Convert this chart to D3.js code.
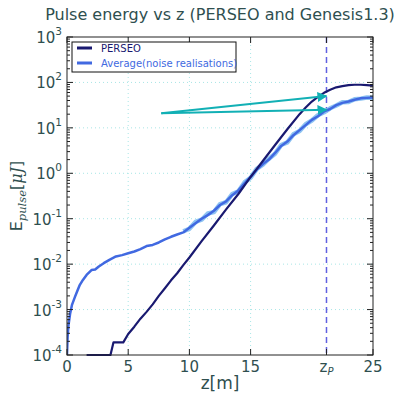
<!DOCTYPE html>
<html>
<head>
<meta charset="utf-8">
<script src="https://cdn.jsdelivr.net/npm/d3@7"></script>
<style>
  body { margin: 0; background: #fff; }
  text { font-family: "DejaVu Sans", sans-serif; }
</style>
</head>
<body>
<div id="chart"></div>
<script>
// PERSEO (z in m, pulse energy in uJ)
const perseoZ = [1.6, 3.55, 3.8, 4.6, 5, 5.5, 6, 6.5, 7, 7.5, 8, 8.5, 9, 9.5, 10, 11, 12, 13, 14, 15, 16, 17, 18, 19, 19.5, 20, 20.5, 21, 21.5, 22, 22.5, 23, 23.5, 24, 24.5, 25];
const perseoE = [1e-4, 1e-4, 1.9e-4, 1.9e-4, 2.9e-4, 4.2e-4, 6.3e-4, 8.9e-4, 1.3e-3, 2.0e-3, 2.95e-3, 4.4e-3, 6.3e-3, 9.5e-3, 1.4e-2, 3.2e-2, 7.1e-2, 0.16, 0.35, 0.83, 1.86, 4.2, 9.3, 20, 28, 38, 48, 59, 69, 78, 83, 87, 89, 89, 87, 85];

// Genesis1.3 average over noise realisations
const avgZ = [0, 0.05, 0.12, 0.25, 0.4, 0.65, 0.85, 1.05, 1.3, 1.6, 2, 2.3, 2.6, 3, 3.5, 4, 4.5, 5, 5.5, 6, 6.5, 7, 7.5, 8, 8.5, 9, 9.5, 10, 10.5, 11, 11.5, 12, 12.5, 13, 13.5, 14, 14.5, 15, 15.5, 16, 16.5, 17, 17.5, 18, 18.5, 19, 19.5, 20, 20.5, 21, 21.5, 22, 22.5, 23, 23.5, 24, 24.5, 25];
const avgE = [1e-4, 2.5e-4, 4.5e-4, 8e-4, 1.25e-3, 1.9e-3, 2.6e-3, 3.5e-3, 4.5e-3, 5.8e-3, 7.4e-3, 7.6e-3, 8.9e-3, 1.05e-2, 1.26e-2, 1.48e-2, 1.58e-2, 1.74e-2, 1.9e-2, 2.15e-2, 2.5e-2, 2.65e-2, 3.0e-2, 3.5e-2, 4.0e-2, 4.5e-2, 5.0e-2, 6.3e-2, 7.9e-2, 0.1, 0.12, 0.15, 0.2, 0.24, 0.33, 0.42, 0.6, 0.83, 1.2, 1.6, 2.0, 2.8, 4.0, 5.0, 6.9, 8.9, 11.5, 15, 18, 23, 26, 31.6, 35.5, 38, 41.7, 44.7, 45.7, 46.8];

// spread of the single realisations (light halo around the average)
const spreadZ = [9.5, 10, 10.5, 11, 11.5, 12, 12.5, 13, 13.5, 14, 14.5, 15, 15.5, 16, 16.5, 17, 17.5, 18, 18.5, 19, 19.5, 20, 20.5, 21, 21.5, 22, 22.5, 23, 23.5, 24, 24.5, 25];
const spreadE = [5.3e-2, 6.0e-2, 8.5e-2, 0.095, 0.13, 0.14, 0.21, 0.23, 0.35, 0.4, 0.63, 0.8, 1.25, 1.55, 2.1, 2.7, 4.2, 4.8, 7.2, 8.5, 12, 14.5, 19, 22, 27, 31, 36.5, 37, 42.5, 44, 46.5, 46];

const xTicks = [0, 5, 10, 15, 21.2, 25];
const xTickLabels = ["0", "5", "10", "15", "zP", "25"];
const yExponents = [-4, -3, -2, -1, 0, 1, 2, 3];
const zP = 21.2;

// arrow annotations: start point and the two end points
const arrowStart = [7.7, 21];
const arrowEnds = [[21.2, 50], [21.2, 25]];

const width = 404, height = 394;
const margin = {left: 67, right: 31, top: 37, bottom: 39};
const textColor = "#2f4f4f";

const svg = d3.select("#chart").append("svg")
    .attr("width", width)
    .attr("height", height);

const x = d3.scaleLinear().domain([0, 25]).range([margin.left, width - margin.right]);
const y = d3.scaleLog().domain([1e-4, 1e3]).range([height - margin.bottom, margin.top]);

const x0 = x(0), x1 = x(25), y0 = y(1e-4), y1 = y(1e3);

// grid
const grid = svg.append("g")
    .attr("stroke", "#a8e6e6")
    .attr("stroke-width", 1)
    .attr("stroke-dasharray", "1,3");
grid.selectAll(".gx").data([5, 10, 15]).join("line")
    .attr("x1", d => x(d)).attr("x2", d => x(d))
    .attr("y1", y1).attr("y2", y0);
grid.selectAll(".gy").data(yExponents.slice(1, -1)).join("line")
    .attr("x1", x0).attr("x2", x1)
    .attr("y1", d => y(Math.pow(10, d))).attr("y2", d => y(Math.pow(10, d)));

// z_P marker
svg.append("line")
    .attr("x1", x(zP)).attr("x2", x(zP))
    .attr("y1", y1).attr("y2", y0)
    .attr("stroke", "#6060e0")
    .attr("stroke-width", 1.5)
    .attr("stroke-dasharray", "6,4");

const clip = svg.append("clipPath").attr("id", "clip")
  .append("rect").attr("x", x0).attr("y", y1).attr("width", x1 - x0).attr("height", y0 - y1 + 1);

const line = d3.line().x(d => x(d[0])).y(d => y(d[1]));
const plot = svg.append("g").attr("clip-path", "url(#clip)");

plot.append("path")
    .attr("d", line(d3.zip(spreadZ, spreadE)))
    .attr("fill", "none")
    .attr("stroke", "#8ec3f2")
    .attr("stroke-width", 4.5)
    .attr("stroke-linejoin", "round");

plot.append("path")
    .attr("d", line(d3.zip(avgZ, avgE)))
    .attr("fill", "none")
    .attr("stroke", "#4169e1")
    .attr("stroke-width", 2.5)
    .attr("stroke-linejoin", "round");

plot.append("path")
    .attr("d", line(d3.zip(perseoZ, perseoE)))
    .attr("fill", "none")
    .attr("stroke", "#191970")
    .attr("stroke-width", 2.2)
    .attr("stroke-linejoin", "round");

// arrows
const defs = svg.append("defs");
defs.append("marker")
    .attr("id", "head")
    .attr("viewBox", "0 0 10 10")
    .attr("refX", 9).attr("refY", 5)
    .attr("markerWidth", 5).attr("markerHeight", 5)
    .attr("markerUnits", "strokeWidth")
    .attr("orient", "auto")
  .append("path")
    .attr("d", "M0,0 L10,5 L0,10 z")
    .attr("fill", "#12b0b5");

svg.append("g").selectAll("line").data(arrowEnds).join("line")
    .attr("x1", x(arrowStart[0])).attr("y1", y(arrowStart[1]))
    .attr("x2", d => x(d[0])).attr("y2", d => y(d[1]))
    .attr("stroke", "#12b0b5")
    .attr("stroke-width", 2)
    .attr("marker-end", "url(#head)");

// frame
svg.append("rect")
    .attr("x", x0).attr("y", y1)
    .attr("width", x1 - x0).attr("height", y0 - y1)
    .attr("fill", "none")
    .attr("stroke", "#222")
    .attr("stroke-width", 1);

// ticks (inward, on all sides)
const ticks = svg.append("g").attr("stroke", "#222").attr("stroke-width", 1);
const minor = [];
yExponents.slice(0, -1).forEach(e => { for (let k = 2; k < 10; k++) minor.push(k * Math.pow(10, e)); });
[[x0, 1], [x1, -1]].forEach(([xx, dir]) => {
  ticks.append("g").selectAll("line").data(yExponents).join("line")
      .attr("x1", xx).attr("x2", xx + dir * 6)
      .attr("y1", d => y(Math.pow(10, d))).attr("y2", d => y(Math.pow(10, d)));
  ticks.append("g").selectAll("line").data(minor).join("line")
      .attr("x1", xx).attr("x2", xx + dir * 3)
      .attr("y1", d => y(d)).attr("y2", d => y(d));
});
[[y0, -1], [y1, 1]].forEach(([yy, dir]) => {
  ticks.append("g").selectAll("line").data(xTicks).join("line")
      .attr("x1", d => x(d)).attr("x2", d => x(d))
      .attr("y1", yy).attr("y2", yy + dir * 6);
});

// y tick labels
svg.append("g").selectAll("text").data(yExponents).join("text")
    .attr("x", x0 - 5)
    .attr("y", d => y(Math.pow(10, d)) + 6)
    .attr("text-anchor", "end")
    .attr("fill", textColor)
    .attr("font-size", 15)
    .call(t => t.append("tspan").text("10"))
    .call(t => t.append("tspan")
        .attr("dy", -8)
        .attr("font-size", 10.5)
        .text(d => d < 0 ? "-" + Math.abs(d) : d));

// x tick labels
svg.append("g").selectAll("text").data(xTicks).join("text")
    .attr("x", d => x(d))
    .attr("y", y0 + 17)
    .attr("text-anchor", "middle")
    .attr("fill", textColor)
    .attr("font-size", 15)
    .each(function(d, i) {
      const t = d3.select(this);
      if (xTickLabels[i] === "zP") {
        t.append("tspan").text("z");
        t.append("tspan").attr("dy", 3).attr("font-size", 10).attr("font-style", "italic").text("P");
      } else {
        t.text(xTickLabels[i]);
      }
    });

// title and axis labels
svg.append("text")
    .attr("x", (x0 + x1) / 2)
    .attr("y", 20)
    .attr("text-anchor", "middle")
    .attr("fill", textColor)
    .attr("font-size", 16)
    .text("Pulse energy vs z (PERSEO and Genesis1.3)");

svg.append("text")
    .attr("x", (x0 + x1) / 2)
    .attr("y", 389)
    .attr("text-anchor", "middle")
    .attr("fill", textColor)
    .attr("font-size", 17)
    .text("z[m]");

const ylab = svg.append("text")
    .attr("transform", `translate(22,${(y0 + y1) / 2}) rotate(-90)`)
    .attr("text-anchor", "middle")
    .attr("fill", textColor)
    .attr("font-size", 16);
ylab.append("tspan").text("E");
ylab.append("tspan").attr("dy", 4).attr("font-size", 11.5).attr("font-style", "italic").attr("font-family", "DejaVu Serif").text("pulse");
ylab.append("tspan").attr("dy", -4).text("[");
ylab.append("tspan").attr("font-style", "italic").attr("font-family", "DejaVu Serif").text("μJ");
ylab.append("tspan").text("]");

// legend
const legend = svg.append("g");
legend.append("rect")
    .attr("x", 72).attr("y", 42).attr("width", 164).attr("height", 30)
    .attr("fill", "#fff").attr("stroke", "#111").attr("stroke-width", 1);
const legendItems = [["PERSEO", "#191970"], ["Average(noise realisations)", "#4169e1"]];
legend.selectAll(".li").data(legendItems).join("g")
    .attr("transform", (d, i) => `translate(0,${48 + i * 15})`)
    .call(g => g.append("line")
        .attr("x1", 77).attr("x2", 92)
        .attr("stroke", d => d[1]).attr("stroke-width", 3))
    .call(g => g.append("text")
        .attr("x", 101).attr("y", 4)
        .attr("font-size", 10)
        .attr("fill", d => d[1])
        .text(d => d[0]));
</script>
</body>
</html>
